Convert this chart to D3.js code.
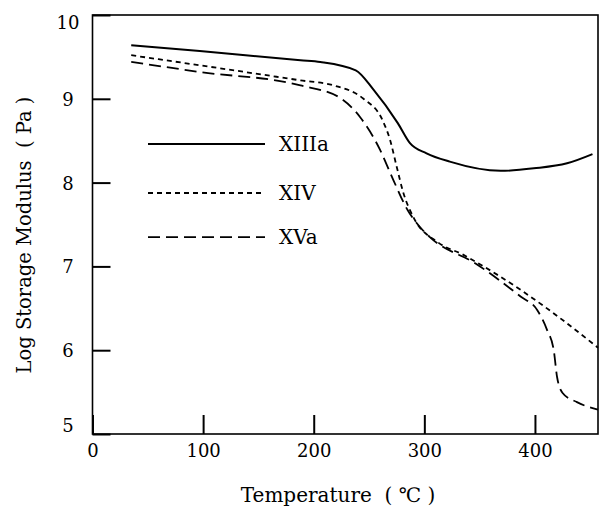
<!DOCTYPE html>
<html><head><meta charset="utf-8">
<script src="https://cdn.jsdelivr.net/npm/d3@7"></script>
<style>body{margin:0;background:#fff}text{font-family:"DejaVu Serif",serif;fill:#000}</style>
</head><body>
<svg id="c" width="600" height="508"></svg>
<script>
const seriesNames = ["XIIIa", "XIV", "XVa"];
const tempXIIIa = [35, 97, 188, 206, 238, 254, 276, 287, 302, 323, 369, 399, 429, 452];
const valXIIIa  = [9.64, 9.57, 9.46, 9.44, 9.34, 9.11, 8.71, 8.47, 8.35, 8.25, 8.14, 8.17, 8.23, 8.34];
const tempXIV = [35, 97, 188, 218, 245, 262, 269, 275, 281, 290, 312, 335, 351, 387, 423, 457];
const valXIV  = [9.52, 9.40, 9.22, 9.16, 9.00, 8.75, 8.51, 8.19, 7.88, 7.59, 7.29, 7.14, 7.02, 6.72, 6.38, 6.03];
const tempXVa = [35, 97, 188, 224, 242, 260, 272, 285, 296, 305, 348, 387, 402, 411, 417, 420, 425, 438, 457];
const valXVa  = [9.44, 9.32, 9.16, 9.01, 8.78, 8.39, 8.03, 7.67, 7.47, 7.35, 7.02, 6.64, 6.48, 6.24, 6.00, 5.68, 5.49, 5.38, 5.29];
const xTicks = [0, 100, 200, 300, 400];
const yTicks = [5, 6, 7, 8, 9, 10];

const svg = d3.select("#c");
const L = 92.5, R = 598, T = 15, B = 434;
const x = d3.scaleLinear().domain([0, 457]).range([L, R]);
const y = d3.scaleLinear().domain([5, 10]).range([B, T]);

const series = [
  {name: seriesNames[0], t: tempXIIIa, v: valXIIIa, dash: null, w: 2},
  {name: seriesNames[1], t: tempXIV, v: valXIV, dash: "5,4", w: 1.8},
  {name: seriesNames[2], t: tempXVa, v: valXVa, dash: "12,6", w: 1.8}
];

// frame
svg.append("rect").attr("x", L).attr("y", T).attr("width", R - L).attr("height", B - T)
  .attr("fill", "none").attr("stroke", "#000").attr("stroke-width", 1.6);

// y axis
const ya = svg.append("g").attr("transform", `translate(${L},0)`)
  .call(d3.axisLeft(y).tickValues(yTicks).tickSize(-18).tickFormat(d3.format("d")));
ya.select(".domain").remove();
ya.selectAll("line").attr("stroke-width", 2);
ya.selectAll("text").attr("x", 68 - L).attr("text-anchor", "middle")
  .style("font-family", '"DejaVu Serif", serif').style("font-size", "18px")
  .attr("dy", d => d === 10 ? "0.75em" : d === 5 ? "-0.15em" : "0.36em");

// x axis
const xa = svg.append("g").attr("transform", `translate(0,${B})`)
  .call(d3.axisBottom(x).tickValues(xTicks).tickSize(-19).tickPadding(10).tickFormat(d3.format("d")));
xa.select(".domain").remove();
xa.selectAll("line").attr("stroke-width", 2);
xa.selectAll("text").style("font-family", '"DejaVu Serif", serif').style("font-size", "18px")
  .attr("y", 9).attr("dy", "0.75em");

// lines
const line = d3.line().x(d => x(d[0])).y(d => y(d[1])).curve(d3.curveMonotoneX);
series.forEach(s => {
  const pts = s.t.map((t, i) => [t, s.v[i]]);
  svg.append("path").datum(pts).attr("d", line).attr("fill", "none")
    .attr("stroke", "#000").attr("stroke-width", s.w)
    .attr("stroke-dasharray", s.dash);
});

// legend
const legY = [8.46, 7.876, 7.35];
series.forEach((s, i) => {
  const yy = y(legY[i]);
  svg.append("line").attr("x1", 148).attr("x2", 265).attr("y1", yy).attr("y2", yy)
    .attr("stroke", "#000").attr("stroke-width", s.w).attr("stroke-dasharray", s.dash);
  svg.append("text").attr("x", 279).attr("y", yy + 7).style("font-size", "20px").text(s.name);
});

// axis titles
svg.append("text").attr("x", 338).attr("y", 502).attr("text-anchor", "middle")
  .style("font-size", "20px").style("white-space", "pre").text("Temperature  ( \u2103 )");
svg.append("text").attr("transform", "translate(31,235) rotate(-90)").attr("text-anchor", "middle")
  .style("font-size", "19.5px").style("white-space", "pre").text("Log Storage Modulus  ( Pa )");
</script>
</body></html>
